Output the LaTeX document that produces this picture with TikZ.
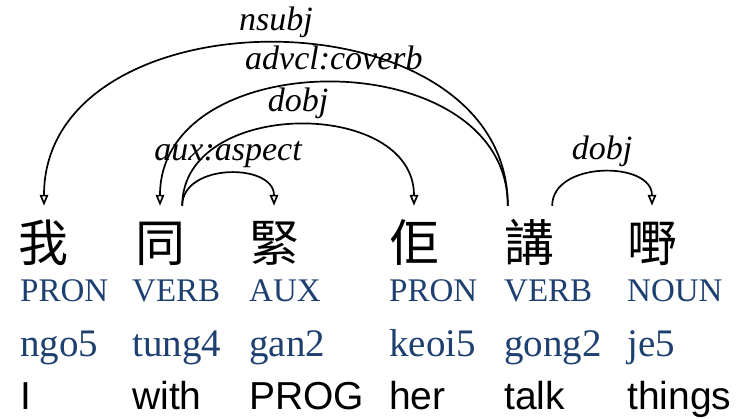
\documentclass[tikz,border=0pt]{standalone}
\usepackage{fontspec}
\setmainfont{Liberation Serif}
\newfontfamily\cjkfont{Noto Sans CJK TC}
\newfontfamily\glossfont{Liberation Sans}
\definecolor{posblue}{RGB}{30, 64, 112}
\usetikzlibrary{arrows.meta}

\begin{document}
\begin{tikzpicture}[x=1pt, y=1pt,
  word/.style={font=\cjkfont\fontsize{50}{50}\selectfont, anchor=base, inner xsep=0pt, inner ysep=12pt, text height=44pt},
  upos/.style={font=\fontsize{33}{33}\selectfont, text=posblue, anchor=base west, inner sep=0pt},
  jyut/.style={font=\fontsize{39}{39}\selectfont, text=posblue, anchor=base west, inner sep=0pt},
  gloss/.style={font=\glossfont\fontsize{39}{39}\selectfont, anchor=base west, inner sep=0pt},
  rel/.style={font=\itshape\fontsize{34}{34}\selectfont, anchor=base, inner sep=0pt, yshift=13pt},
  dep/.style={line width=1.7pt, -{Triangle[open, length=11pt, width=8.5pt]}}]
  \useasboundingbox (0,0) rectangle (748,419);

  % Cantonese words
  \node[word] (w1) at (44, 157) {我};
  \node[word] (w2) at (160, 157) {同};
  \node[word] (w3) at (274, 157) {緊};
  \node[word] (w4) at (414, 157) {佢};
  \node[word] (w5) at (529, 157) {講};
  \node[word] (w6) at (652, 157) {嘢};

  % POS tags
  \node[upos] (p1) at (20, 117) {PRON};
  \node[upos] (p2) at (132, 117) {VERB};
  \node[upos] (p3) at (249, 117) {AUX};
  \node[upos] (p4) at (389, 117) {PRON};
  \node[upos] (p5) at (504, 117) {VERB};
  \node[upos] (p6) at (627, 117) {NOUN};

  % Jyutping
  \node[jyut] (j1) at (20, 62) {ngo5};
  \node[jyut] (j2) at (132, 62) {tung4};
  \node[jyut] (j3) at (249, 62) {gan2};
  \node[jyut] (j4) at (389, 62) {keoi5};
  \node[jyut] (j5) at (504, 62) {gong2};
  \node[jyut] (j6) at (627, 62) {je5};

  % English glosses
  \node[gloss] (g1) at (20, 9) {I};
  \node[gloss] (g2) at (132, 9) {with};
  \node[gloss] (g3) at (249, 9) {PROG};
  \node[gloss] (g4) at (389, 9) {her};
  \node[gloss] (g5) at (504, 9) {talk};
  \node[gloss] (g6) at (627, 9) {things};

  % Dependency arcs
  \draw[dep] ([xshift=4pt]w5.north west) .. controls +(0,217) and +(0,217) .. node[rel, pos=0.5] (lnsubj) {nsubj} (w1.north);
  \draw[dep] ([xshift=4pt]w5.north west) .. controls +(0,164) and +(0,164) .. node[rel, pos=0.5] (ladvcl) {advcl:coverb} (w2.north);
  \draw[dep] ([xshift=-3pt]w2.north east) .. controls +(0,108) and +(0,108) .. node[rel, pos=0.5] (ldobj) {dobj} (w4.north);
  \draw[dep] ([xshift=-3pt]w2.north east) .. controls +(0,43) and +(0,43) .. node[rel, pos=0.5] (laux) {aux:aspect} (w3.north);
  \draw[dep] ([xshift=-2pt]w5.north east) .. controls +(0,45) and +(0,45) .. node[rel, pos=0.5] (ldobjb) {dobj} (w6.north);
\end{tikzpicture}
\end{document}
